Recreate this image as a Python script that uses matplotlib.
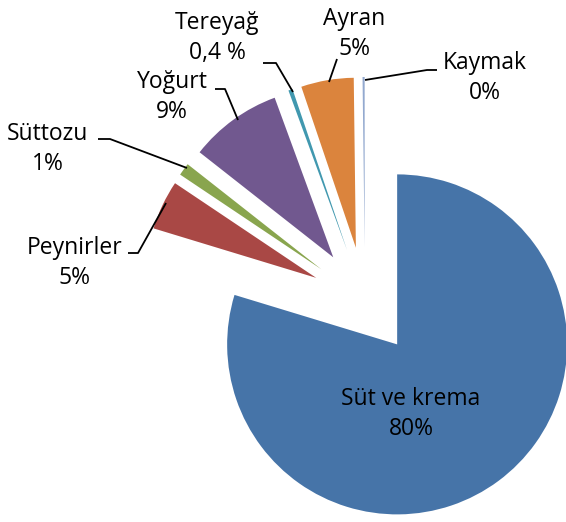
import matplotlib.pyplot as plt

LABELS = ["Süt ve krema", "Peynirler", "Süttozu", "Yoğurt", "Tereyağ", "Ayran", "Kaymak"]
VALUES = [79.7, 4.7, 1.2, 8.8, 0.4, 5.0, 0.2]
PCT_TEXT = ["80%", "5%", "1%", "9%", "0,4 %", "5%", "0%"]
COLORS = ["#4674A8", "#A94845", "#89A54E", "#71588F", "#4198AF", "#DB843D", "#93A9CF"]

W, H = 566, 522
CENTER = (365, H - 301)
RADIUS = 170
EXPLODE = 54

# label block centre and leader line points (pixels, y down)
LABEL_LAYOUT = {
    "Süt ve krema": ((411, 414), None),
    "Peynirler": ((75, 263), [(128, 253), (138, 253), (166, 203)]),
    "Süttozu": ((48, 149), [(98, 139), (110, 139), (187, 168)]),
    "Yoğurt": ((172, 97), [(215, 89), (225, 89), (238, 120)]),
    "Tereyağ": ((217, 38), [(263, 63), (276, 63), (293, 92)]),
    "Ayran": ((354, 34), [(337, 59), (329, 82)]),
    "Kaymak": ((485, 78), [(437, 70), (427, 70), (365, 80)]),
}

fig = plt.figure(figsize=(W / 100, H / 100), dpi=100)
ax = fig.add_axes([0, 0, 1, 1])

ax.pie(
    VALUES,
    colors=COLORS,
    startangle=90,
    counterclock=False,
    radius=RADIUS,
    center=CENTER,
    explode=[EXPLODE] * len(VALUES),
    wedgeprops={"linewidth": 0},
    frame=True,
)
ax.set_xlim(0, W)
ax.set_ylim(0, H)
ax.set_aspect("equal")
ax.axis("off")

for name, pct in zip(LABELS, PCT_TEXT):
    (cx, cy), line = LABEL_LAYOUT[name]
    ax.text(cx, H - cy, f"{name}\n{pct}", ha="center", va="center",
            fontsize=16.5, family="Open Sans", linespacing=1.34, color="black")
    if line:
        xs = [p[0] for p in line]
        ys = [H - p[1] for p in line]
        ax.plot(xs, ys, color="black", linewidth=1.3, solid_capstyle="butt")

fig.savefig("out.png", dpi=100)
